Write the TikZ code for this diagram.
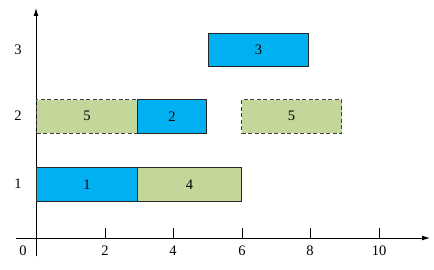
\documentclass[tikz,border=0pt]{standalone}
\usepackage{fontspec}
\setmainfont{Liberation Serif}
\usetikzlibrary{arrows.meta}
\begin{document}
\begin{tikzpicture}[x=1pt,y=-1pt,
  every node/.style={font=\fontsize{14.5}{16}\selectfont},
  bar/.style={draw=black!85, line width=1pt, minimum height=33.5pt, inner sep=0pt, anchor=north west},
  job/.style={bar, fill=blue1},
  idle/.style={bar, fill=green1},
  dashbar/.style={bar, fill=green1, draw=black!75, line width=1.1pt, dash pattern=on 4pt off 2.5pt},
  axis/.style={line width=0.9pt, -{Latex[length=8pt,width=5pt]}},
  tick/.style={line width=0.9pt},
  lab/.style={inner sep=0pt}]
\definecolor{blue1}{HTML}{00B0F0}
\definecolor{green1}{HTML}{C4D79B}
\useasboundingbox (0,0) rectangle (434,270);
% axes
\coordinate (ybot) at (36,256);
\coordinate (ytop) at (36,8);
\coordinate (xl) at (16,238);
\coordinate (xr) at (430,238);
\draw[axis] (ybot) -- (ytop);
\draw[axis] (xl) -- (xr);
% ticks
\foreach \v/\x in {2/105,4/173,6/242,8/310,10/379}{
  \coordinate (t\v) at (\x,238);
  \draw[tick] (t\v) -- ++(0,-10);
  \node[lab] (tl\v) at (\x,251) {\v};
}
\node[lab] (tl0) at (23,251) {0};
% row labels
\node[lab] (r1) at (18,184) {1};
\node[lab] (r2) at (18,116) {2};
\node[lab] (r3) at (18,50) {3};
% bars
\node[job, minimum width=101pt] (b1) at (36,167) {1};
\node[idle, minimum width=104pt] (b4) at (137,167) {4};
\node[dashbar, minimum width=101pt] (b5a) at (36,99) {5};
\node[job, minimum width=69pt] (b2) at (137,99) {2};
\node[dashbar, minimum width=100pt] (b5b) at (241,99) {5};
\node[job, minimum width=100pt] (b3) at (208,33) {3};
\end{tikzpicture}
\end{document}
